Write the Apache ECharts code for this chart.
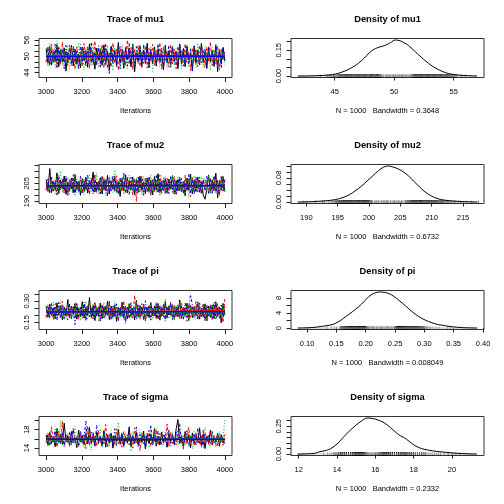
<!DOCTYPE html>
<html><head><meta charset="utf-8">
<script src="https://cdn.jsdelivr.net/npm/echarts@6/dist/echarts.min.js"></script>
<style>html,body{margin:0;padding:0;background:#fff}#c{width:504px;height:504px}</style>
</head><body><div id="c"></div>
<script>
// ---------- DATA ----------
const iterRange = [3000, 4000];
const smoothIter = [3000, 3250, 3500, 3750, 4000];
const chainColors = ['#000000', '#FF0000', '#00CD00', '#0000FF'];

const mu1Chain1 = [52.9,47.4,53.6,46.8,51.7,48.1,54.3,46.2,52.4,47.9,53.1,44.6,51.5,48.8,54.0,46.5,52.7,47.2,50.9,45.8,53.4,48.4,52.1,46.0,54.6,47.7,51.3,45.3,53.0,48.6,52.5,46.7,54.2,47.0,51.9,44.9,53.7,48.2,52.2,46.3,55.1,47.5,51.6,45.6,53.3,48.9,52.8,46.1,54.4,44.3,51.2,47.8,53.9,46.6,52.3,48.0,54.8,45.9,51.8,47.3,53.5,46.4,52.6,48.5,50.7,45.1,54.1,47.6,52.0,46.9,53.2,48.3,51.4,45.5,54.5,47.1,52.9,46.2,53.8,48.7,51.1,44.7,53.6,47.4,52.4,46.8,54.7,48.1,51.7,45.7,53.0,47.9,52.2,46.5,54.0,44.4,52.6,47.2,53.3,48.4];
const mu1Chain2 = [47.8,53.2,46.4,54.5,48.3,52.6,45.9,53.8,47.1,55.2,48.6,52.0,46.7,54.1,47.5,52.8,45.4,53.5,48.0,51.9,46.2,54.7,47.7,52.4,45.6,53.1,48.8,55.6,46.9,52.2,47.3,54.3,45.8,53.0,48.4,51.6,46.1,54.9,47.6,52.7,44.9,53.6,48.2,52.1,46.6,56.0,47.0,53.3,45.2,52.5,48.7,54.0,46.3,51.8,47.4,53.9,45.7,52.9,48.1,54.4,46.8,52.3,47.9,55.0,45.3,53.4,48.5,51.7,46.0,54.2,47.2,52.6,45.5,53.7,48.9,52.0,46.4,54.6,47.8,51.5,44.8,53.1,48.3,52.8,46.2,54.1,47.6,52.4,45.9,53.5,48.0,55.3,46.7,52.2,47.3,53.8,45.1,52.7,48.6,51.9];
const mu1Chain3 = [51.4,46.3,54.8,47.9,52.5,45.7,55.7,48.2,53.0,46.6,52.1,47.4,54.3,45.4,53.6,48.7,51.8,46.0,55.2,47.2,52.9,45.0,53.3,48.5,52.0,46.8,54.6,47.6,51.6,45.8,53.9,48.1,52.7,46.4,54.1,47.0,52.3,44.7,53.5,48.6,51.9,46.2,54.4,47.7,52.6,45.5,53.1,48.3,55.0,46.9,52.2,47.3,53.7,45.6,54.0,48.0,51.7,46.5,53.4,44.5,52.8,47.8,54.7,46.1,52.4,48.4,53.2,45.9,51.5,47.1,54.2,46.7,52.9,48.8,53.8,45.3,52.0,47.5,54.5,46.3,53.0,48.2,51.6,45.7,54.9,47.4,52.5,46.0,53.6,48.6,52.1,44.9,53.3,47.7,54.1,46.4,52.7,48.1,51.8,46.8];
const mu1Chain4 = [48.5,53.4,46.9,52.2,47.6,54.5,46.0,53.1,48.2,52.6,45.5,54.0,47.3,52.9,46.5,53.7,48.0,51.8,45.2,54.3,47.8,52.4,46.3,53.5,48.6,55.1,46.7,52.0,47.1,53.9,45.8,52.7,48.4,54.6,46.1,43.8,53.2,47.5,52.3,46.8,54.1,45.4,53.0,48.1,52.5,46.4,54.8,47.2,51.9,45.6,53.6,48.3,52.1,46.2,54.2,47.0,53.3,45.9,52.8,48.7,51.7,46.6,54.4,47.4,53.1,45.3,52.4,48.0,54.0,46.0,53.8,47.7,52.2,45.7,54.7,48.5,51.6,46.3,53.4,47.1,52.6,44.6,53.9,48.2,52.0,46.9,54.3,47.6,52.8,45.5,53.5,48.8,51.9,46.1,54.5,47.3,52.3,45.8,53.2,48.4];
const mu1Smooth = [[50.1,50.0,50.0,50.1,50.0],[50.0,49.9,50.0,50.0,50.0],[50.0,50.1,50.0,49.9,50.0],[49.9,50.0,50.1,50.0,50.0]];
const mu1RugCentre = [48.6,48.8,48.9,49.05,49.1,49.25,49.3,49.4,49.45,49.55,49.6,49.7,49.8,49.85,49.95,50.0,50.1,50.15,50.25,50.3,50.4,50.45,50.55,50.6,50.7,50.8,50.95,51.05];

const mu2Chain1 = [208.1,198.3,217.5,197.2,206.4,199.5,213.8,196.4,207.7,200.1,211.2,195.6,205.9,198.8,209.4,197.0,212.5,199.9,206.8,194.8,208.9,198.1,210.2,196.7,207.3,200.4,214.6,197.5,206.1,199.2,209.8,195.9,208.4,198.6,211.7,196.1,207.0,200.0,210.9,197.8,206.6,193.9,209.1,198.4,212.2,196.9,207.5,199.6,210.4,195.4,208.2,197.3,211.0,199.0,206.3,196.3,209.6,198.0,207.9,195.1,210.7,199.4,213.2,197.1,206.9,198.9,209.2,196.6,208.6,200.2,211.5,195.8,207.2,198.5,210.0,197.6,206.5,194.5,209.5,199.1,212.8,196.2,207.6,198.2,210.3,197.4,206.2,195.2,191.5,199.7,211.9,196.8,208.0,198.7,213.5,192.6,207.1,199.3,210.8,197.9];
const mu2Chain2 = [199.0,208.7,196.8,210.1,198.4,207.5,195.3,211.6,199.8,206.0,197.0,209.9,194.6,208.1,200.3,212.3,197.7,206.7,199.1,210.5,196.4,208.4,198.6,205.8,195.9,209.3,199.5,213.0,197.3,207.1,196.0,210.8,198.9,206.4,194.2,209.7,200.0,207.8,197.5,211.4,195.7,208.9,198.2,206.2,196.6,210.2,199.4,207.4,195.0,209.1,189.5,208.0,197.9,211.1,196.2,206.9,199.6,210.0,194.9,208.5,198.0,207.0,196.9,212.0,199.2,206.5,195.5,209.5,198.7,207.6,197.1,210.6,195.6,208.2,199.9,206.1,196.5,211.8,198.1,207.3,193.6,209.8,199.3,208.3,197.6,210.4,195.8,207.9,198.5,206.8,196.1,209.4,199.7,211.3,197.2,207.2,194.7,210.9,198.3,208.6];
const mu2Chain3 = [205.2,197.6,209.6,199.7,207.4,196.3,211.0,198.8,215.5,197.0,208.1,200.1,210.3,195.8,207.8,199.2,212.4,196.7,206.6,198.5,209.2,195.2,208.6,200.3,211.7,197.4,206.3,199.0,213.6,196.0,208.0,198.2,210.7,194.6,207.2,199.8,209.9,197.2,216.3,196.5,208.4,199.5,210.1,195.4,207.0,198.6,211.9,196.9,208.8,200.0,209.4,197.8,206.9,195.0,210.5,199.1,208.2,196.4,212.1,198.3,207.6,197.1,209.7,194.1,208.5,199.6,210.9,196.6,207.1,198.9,211.2,195.6,208.7,199.4,210.0,197.5,206.8,196.1,209.3,192.9,208.3,198.1,211.5,196.8,207.5,199.3,210.6,195.9,208.9,197.9,212.7,196.2,207.7,199.9,209.0,195.3,208.1,198.4,210.2,197.3];
const mu2Chain4 = [200.5,207.9,196.6,210.4,198.5,206.6,195.5,209.5,199.3,208.3,197.4,211.3,196.0,207.6,199.8,209.9,195.1,208.7,198.1,210.8,196.8,207.2,199.5,212.6,197.1,208.5,195.8,209.3,198.7,207.0,196.4,210.5,199.0,208.1,194.3,209.6,197.7,211.8,198.3,206.7,196.2,209.1,199.7,214.2,197.0,208.6,195.6,210.0,198.6,207.3,196.9,211.1,199.2,208.8,194.8,209.4,197.9,210.7,196.5,207.8,199.4,212.3,197.5,208.2,195.9,209.8,198.4,207.1,196.3,211.4,199.6,208.4,195.3,210.1,197.8,209.0,196.7,207.4,199.1,213.1,197.2,208.0,195.4,210.3,198.8,207.7,196.0,209.2,199.9,211.6,196.8,208.9,195.7,210.6,198.0,207.5,196.1,209.7,198.2,208.2];
const mu2Smooth = [[203.0,202.9,203.1,203.0,203.2],[202.8,202.9,202.7,202.9,202.8],[203.1,203.0,203.0,202.9,203.0],[202.9,203.0,202.9,203.1,202.9]];
const mu2RugCentre = [200.4,200.6,200.9,201.0,201.2,201.3,201.5,201.6,201.9,202.0,202.2,202.3,202.5,202.6,202.8,202.9,203.0,203.1,203.4,203.5,203.7,203.9,204.0,204.1,204.3,204.4,204.6,204.7,204.9,205.2,205.3,205.6,205.8];

const piChain1 = [0.262,0.188,0.279,0.196,0.251,0.175,0.288,0.201,0.268,0.169,0.257,0.193,0.311,0.182,0.264,0.205,0.283,0.172,0.249,0.190,0.296,0.179,0.259,0.198,0.325,0.185,0.270,0.163,0.254,0.194,0.287,0.176,0.261,0.200,0.300,0.170,0.266,0.186,0.274,0.157,0.256,0.197,0.292,0.181,0.263,0.174,0.281,0.192,0.252,0.168,0.305,0.187,0.269,0.199,0.277,0.161,0.258,0.183,0.290,0.195,0.265,0.178,0.284,0.166,0.253,0.191,0.298,0.180,0.267,0.202,0.275,0.171,0.260,0.189,0.309,0.177,0.255,0.194,0.286,0.164,0.271,0.184,0.262,0.198,0.293,0.173,0.250,0.190,0.280,0.160,0.266,0.186,0.273,0.176,0.296,0.192,0.257,0.147,0.284,0.200];
const piChain2 = [0.184,0.271,0.195,0.258,0.170,0.284,0.189,0.265,0.176,0.299,0.197,0.254,0.167,0.277,0.186,0.262,0.199,0.290,0.173,0.256,0.192,0.281,0.165,0.268,0.188,0.252,0.178,0.295,0.194,0.260,0.159,0.274,0.183,0.266,0.200,0.288,0.171,0.257,0.190,0.279,0.174,0.263,0.196,0.302,0.168,0.255,0.187,0.272,0.181,0.340,0.193,0.259,0.175,0.283,0.162,0.267,0.198,0.276,0.179,0.253,0.191,0.289,0.169,0.264,0.185,0.280,0.172,0.258,0.197,0.293,0.166,0.270,0.189,0.261,0.177,0.285,0.194,0.256,0.158,0.278,0.186,0.268,0.200,0.297,0.174,0.262,0.182,0.287,0.170,0.254,0.195,0.275,0.164,0.266,0.190,0.282,0.178,0.259,0.150,0.315];
const piChain3 = [0.270,0.180,0.263,0.194,0.294,0.173,0.258,0.199,0.306,0.185,0.267,0.168,0.282,0.192,0.254,0.177,0.289,0.196,0.261,0.162,0.276,0.188,0.298,0.171,0.259,0.200,0.284,0.183,0.266,0.155,0.253,0.193,0.292,0.176,0.272,0.187,0.260,0.169,0.301,0.195,0.257,0.181,0.279,0.164,0.268,0.198,0.286,0.174,0.255,0.190,0.296,0.178,0.264,0.186,0.273,0.160,0.262,0.197,0.288,0.172,0.256,0.184,0.280,0.167,0.269,0.193,0.320,0.179,0.258,0.189,0.277,0.170,0.265,0.199,0.291,0.175,0.252,0.182,0.285,0.163,0.271,0.196,0.259,0.173,0.299,0.188,0.266,0.180,0.283,0.158,0.257,0.194,0.274,0.176,0.290,0.185,0.261,0.170,0.278,0.191];
const piChain4 = [0.196,0.266,0.178,0.285,0.191,0.259,0.165,0.291,0.187,0.272,0.170,0.254,0.199,0.280,0.174,0.263,0.134,0.276,0.193,0.257,0.180,0.294,0.168,0.268,0.189,0.253,0.176,0.287,0.195,0.261,0.160,0.275,0.184,0.258,0.198,0.297,0.172,0.264,0.186,0.281,0.163,0.255,0.192,0.270,0.142,0.262,0.181,0.289,0.197,0.256,0.169,0.278,0.188,0.260,0.175,0.303,0.194,0.265,0.166,0.252,0.190,0.283,0.177,0.267,0.200,0.274,0.161,0.259,0.185,0.292,0.171,0.256,0.196,0.279,0.179,0.264,0.167,0.286,0.192,0.258,0.345,0.271,0.183,0.253,0.174,0.288,0.195,0.262,0.159,0.277,0.187,0.266,0.178,0.295,0.168,0.257,0.190,0.273,0.182,0.260];
const piSmooth = [[0.226,0.225,0.226,0.226,0.227],[0.223,0.224,0.226,0.229,0.233],[0.225,0.226,0.225,0.224,0.225],[0.224,0.225,0.224,0.225,0.226]];
const piRugCentre = [0.201,0.203,0.204,0.206,0.208,0.209,0.211,0.212,0.213,0.214,0.216,0.218,0.219,0.221,0.223,0.224,0.226,0.227,0.228,0.229,0.231,0.233,0.234,0.236,0.237,0.238,0.239,0.241,0.243,0.244,0.246,0.248,0.249];

const sigmaChain1 = [16.9,14.6,17.4,15.0,16.5,14.3,18.2,15.2,17.0,14.8,19.4,15.4,16.7,14.5,17.6,15.1,16.3,14.1,17.9,15.3,16.8,14.7,17.2,14.9,18.5,15.0,16.6,14.4,17.5,15.5,16.4,14.6,17.8,14.2,16.9,15.2,17.3,14.0,16.6,15.4,18.0,14.8,17.1,14.5,16.5,15.1,18.6,14.3,16.7,15.0,17.4,14.6,16.2,15.3,17.7,13.8,16.8,14.9,17.0,15.2,18.3,14.4,16.6,14.7,17.5,15.1,16.4,14.2,17.2,15.4,16.9,14.8,18.1,20.2,15.0,16.5,14.5,17.6,15.3,16.8,14.1,17.3,14.9,16.7,15.2,18.4,14.6,17.0,13.9,16.6,15.0,17.9,14.7,16.4,15.3,17.2,14.4,16.9,15.1,16.2];
const sigmaChain2 = [15.1,17.3,14.7,18.6,15.4,16.8,14.2,17.7,15.0,19.8,14.5,16.6,15.2,17.4,14.8,18.0,15.5,16.4,14.3,17.1,15.0,16.9,13.9,18.8,14.6,17.5,15.3,16.7,14.4,17.8,15.1,16.5,14.9,19.1,14.1,17.2,15.4,16.8,14.6,18.2,15.0,16.3,14.2,17.6,15.3,16.9,14.7,17.0,14.0,18.4,15.2,16.6,13.5,17.3,14.9,16.7,15.5,17.9,14.4,16.4,15.1,18.1,14.6,17.2,14.8,16.8,15.3,19.2,14.3,17.5,15.0,16.5,14.7,17.8,15.4,16.9,13.7,17.1,14.9,18.5,15.2,16.6,14.5,17.4,15.0,16.3,14.2,18.0,15.4,16.7,14.8,17.6,15.1,16.9,14.4,17.2,15.3,16.4,14.6,17.0];
const sigmaChain3 = [16.1,14.4,17.7,15.2,16.6,14.9,18.4,15.0,20.0,14.7,16.8,15.3,17.3,14.2,16.5,15.1,18.7,14.6,17.0,15.4,16.3,14.0,17.9,15.2,16.7,13.6,17.5,14.8,16.9,15.0,18.2,14.5,17.2,15.3,16.4,14.3,17.8,15.1,16.7,14.7,19.6,15.2,16.5,14.4,17.4,15.0,16.9,13.3,17.6,14.9,16.2,15.4,18.0,14.6,16.8,15.2,17.3,14.1,16.6,15.0,18.6,14.8,17.1,15.3,16.4,14.5,17.7,15.1,16.9,14.2,17.5,15.4,16.6,14.7,18.3,15.0,16.3,14.4,17.2,15.2,16.8,13.8,17.9,14.9,16.5,15.3,17.0,14.6,18.5,15.1,16.7,14.3,17.4,15.0,16.2,14.8,17.6,15.2,16.0,20.4];
const sigmaChain4 = [15.6,17.0,14.5,16.7,15.3,18.1,14.8,16.4,15.0,17.5,14.3,16.9,15.4,17.2,14.7,18.4,15.1,16.6,14.4,17.8,15.2,16.3,19.8,14.9,16.8,15.5,17.4,14.6,18.9,15.0,16.5,14.2,17.6,15.3,16.7,14.8,17.1,15.1,18.2,14.5,16.9,15.4,17.3,14.1,16.4,15.2,17.9,14.7,16.6,15.0,18.6,14.4,17.0,15.3,16.8,13.9,17.4,15.1,19.0,14.6,16.5,15.2,17.7,14.8,16.3,15.4,17.2,14.3,18.0,15.0,16.9,14.6,17.5,15.2,19.3,14.9,16.7,15.1,17.8,14.5,16.4,15.3,17.1,14.7,18.3,15.0,16.6,14.2,17.3,15.4,16.8,14.9,17.6,15.1,16.2,14.6,17.0,15.3,16.5,15.0];
const sigmaSmooth = [[15.9,15.9,15.8,15.9,15.9],[15.9,15.9,16.0,15.9,15.9],[15.8,15.9,15.9,15.9,16.0],[15.9,15.9,15.9,15.9,15.9]];
const sigmaRugCentre = [15.55,15.6,15.65,15.7,15.75,15.8,15.85,15.9,15.95,16.0,16.05,16.1,16.15];

// density curves
const mu1DensX = [41.9,43.5,44.5,45.1,45.7,46.2,46.7,47.0,47.5,47.9,48.3,48.6,49.0,49.3,49.7,50.1,50.5,50.8,51.2,51.8,52.3,52.6,53.2,53.7,54.3,54.9,55.5,56.0,56.96];
const mu1DensY = [0,0.002,0.006,0.012,0.025,0.040,0.060,0.075,0.105,0.135,0.155,0.165,0.173,0.180,0.195,0.210,0.205,0.195,0.178,0.140,0.108,0.090,0.058,0.038,0.020,0.010,0.005,0.003,0];
const mu2DensX = [188.63,191,193,194.6,196.0,197.0,197.8,198.8,199.7,200.6,201.5,202.3,203.1,203.9,204.7,205.5,206.3,207.1,207.9,208.8,209.8,210.7,211.6,213.0,214.5,217.3];
const mu2DensY = [0,0.0015,0.004,0.008,0.016,0.026,0.037,0.053,0.070,0.087,0.104,0.116,0.120,0.116,0.110,0.100,0.087,0.070,0.054,0.036,0.022,0.013,0.008,0.004,0.002,0];
const piDensX = [0.0841,0.11,0.125,0.1427,0.155,0.1654,0.177,0.1882,0.197,0.2053,0.215,0.225,0.2394,0.248,0.2565,0.268,0.2792,0.290,0.302,0.313,0.3247,0.3474,0.365,0.3901];
const piDensY = [0,0.15,0.45,0.9,1.8,2.98,4.3,5.67,7.0,8.37,9.3,9.6,9.2,8.4,7.4,5.9,4.33,3.1,2.08,1.4,0.9,0.35,0.12,0];
const sigmaDensX = [11.95,12.8,13.04,13.57,14.0,14.43,14.95,15.3,15.56,16.0,16.52,17.04,17.3,17.48,17.8,18.08,18.4,18.78,19.2,19.65,20.35,21.3];
const sigmaDensY = [0,0.006,0.018,0.040,0.090,0.170,0.255,0.300,0.325,0.315,0.275,0.200,0.165,0.150,0.110,0.075,0.050,0.035,0.024,0.016,0.006,0];

// tick values and labels
const traceXTicks = [3000,3200,3400,3600,3800,4000];
const mu1TraceYTicks = [44,46,48,50,52,54,56], mu1TraceYLabels = [44,50,56];
const mu2TraceYTicks = [190,195,200,205,210,215,220], mu2TraceYLabels = [190,205];
const piTraceYTicks = [0.15,0.20,0.25,0.30,0.35], piTraceYLabels = [0.15,0.30];
const sigmaTraceYTicks = [14,16,18,20], sigmaTraceYLabels = [14,18];
const mu1DensXTicks = [45,50,55], mu1DensYTicks = [0,0.05,0.10,0.15,0.20], mu1DensYLabels = [0,0.15];
const mu2DensXTicks = [190,195,200,205,210,215], mu2DensYTicks = [0,0.02,0.04,0.06,0.08,0.10,0.12], mu2DensYLabels = [0,0.08];
const piDensXTicks = [0.10,0.15,0.20,0.25,0.30,0.35,0.40], piDensYTicks = [0,2,4,6,8], piDensYLabels = [0,4,8];
const sigmaDensXTicks = [12,14,16,18,20], sigmaDensYTicks = [0,0.05,0.10,0.15,0.20,0.25,0.30], sigmaDensYLabels = [0,0.25];

const paramNames = ['mu1','mu2','pi','sigma'];
const sampleN = 1000;
const bandwidths = ['0.3648','0.6732','0.008049','0.2332'];

// ---------- CHART ----------
const FONT = '"Liberation Sans", Arial, Helvetica, sans-serif';
const chains = [[mu1Chain1,mu1Chain2,mu1Chain3,mu1Chain4],[mu2Chain1,mu2Chain2,mu2Chain3,mu2Chain4],[piChain1,piChain2,piChain3,piChain4],[sigmaChain1,sigmaChain2,sigmaChain3,sigmaChain4]];
const smooths = [mu1Smooth, mu2Smooth, piSmooth, sigmaSmooth];
const rugCentres = [mu1RugCentre, mu2RugCentre, piRugCentre, sigmaRugCentre];
const dens = [[mu1DensX,mu1DensY],[mu2DensX,mu2DensY],[piDensX,piDensY],[sigmaDensX,sigmaDensY]];
const traceY = [[mu1TraceYTicks,mu1TraceYLabels,0],[mu2TraceYTicks,mu2TraceYLabels,0],[piTraceYTicks,piTraceYLabels,2],[sigmaTraceYTicks,sigmaTraceYLabels,0]];
const densXT = [[mu1DensXTicks,0],[mu2DensXTicks,0],[piDensXTicks,2],[sigmaDensXTicks,0]];
const densYT = [[mu1DensYTicks,mu1DensYLabels,2],[mu2DensYTicks,mu2DensYLabels,2],[piDensYTicks,piDensYLabels,0],[sigmaDensYTicks,sigmaDensYLabels,2]];
const traceYRange = [[42.24,56.55],[187.9,220.9],[0.100,0.375],[12.4,20.85]];
const densXRange = [[41.33,57.55],[187.56,218.35],[0.0727,0.4017],[11.6,21.67]];
const densYRange = [[-0.0084,0.2184],[-0.0048,0.1248],[-0.384,9.984],[-0.013,0.338]];
const dashes = ['solid',[3,2],[1,2],[1,2,3,2]];

const grids = [], xAxes = [], yAxes = [], series = [], graphics = [];
function mkAxis(gi, min, max, ticks, labels, dec, isY, name) {
  const ax = {
    type:'value', gridIndex:gi, min:min, max:max,
    axisLine:{show:false},
    axisTick:{show:true, inside:false, length:4.5, customValues:ticks, lineStyle:{color:'#222', width:1}},
    axisLabel:{show:true, customValues:labels, formatter:v=>Number(v).toFixed(dec), fontSize:7.5, color:'#000', fontFamily:FONT, margin:isY?8:10, rotate:isY?90:0, hideOverlap:false},
    splitLine:{show:false}
  };
  if (name) {
    ax.name = name; ax.nameLocation = 'middle'; ax.nameGap = 29;
    ax.nameTextStyle = {fontSize:7.5, color:'#000', fontFamily:FONT};
  }
  return ax;
}
for (let r = 0; r < 4; r++) {
  for (let c = 0; c < 2; c++) {
    const gi = grids.length;
    const left = 39 + 252*c, top = 38.5 + 126*r;
    grids.push({left:left, top:top, width:193, height:39, show:true, borderColor:'#333', borderWidth:1, backgroundColor:'transparent'});
    graphics.push({type:'text', x:left+96.5, y:top-19.2, style:{text:(c===0?'Trace of ':'Density of ')+paramNames[r], textAlign:'center', textVerticalAlign:'middle', font:'bold 9.3px '+FONT, fill:'#000'}});
    if (c === 0) {
      xAxes.push(mkAxis(gi, 2960, 4040, traceXTicks, traceXTicks, 0, false, 'Iterations'));
      yAxes.push(mkAxis(gi, traceYRange[r][0], traceYRange[r][1], traceY[r][0], traceY[r][1], traceY[r][2], true));
      chains[r].forEach((ch, k) => {
        series.push({type:'line', xAxisIndex:gi, yAxisIndex:gi, showSymbol:false, silent:true,
          data: ch.map((v,i)=>[iterRange[0] + i*(iterRange[1]-iterRange[0])/(ch.length-1), v]),
          lineStyle:{color:chainColors[k], width:1, type:dashes[k]}});
      });
      smooths[r].forEach((sm, k) => {
        series.push({type:'line', xAxisIndex:gi, yAxisIndex:gi, showSymbol:false, silent:true, smooth:true,
          data: sm.map((v,i)=>[smoothIter[i], v]), lineStyle:{color:chainColors[k], width:1.5}});
      });
    } else {
      xAxes.push(mkAxis(gi, densXRange[r][0], densXRange[r][1], densXT[r][0], densXT[r][0], densXT[r][1], false, 'N = ' + sampleN + '   Bandwidth = ' + bandwidths[r]));
      yAxes.push(mkAxis(gi, densYRange[r][0], densYRange[r][1], densYT[r][0], densYT[r][1], densYT[r][2], true));
      const dx = dens[r][0], dy = dens[r][1];
      series.push({type:'line', xAxisIndex:gi, yAxisIndex:gi, showSymbol:false, silent:true,
        data:[[dx[0],0],[dx[dx.length-1],0]], lineStyle:{color:'#bebebe', width:1}});
      const rug = [];
      chains[r].forEach(ch => ch.forEach(v => rug.push([v, 0])));
      rugCentres[r].forEach(v => rug.push([v, 0]));
      series.push({type:'scatter', xAxisIndex:gi, yAxisIndex:gi, silent:true, symbol:'rect', symbolSize:[0.8,3],
        data:rug, itemStyle:{color:'rgba(0,0,0,0.75)'}});
      series.push({type:'line', xAxisIndex:gi, yAxisIndex:gi, showSymbol:false, silent:true, smooth:0.3,
        data: dx.map((x,i)=>[x, dy[i]]), lineStyle:{color:'#000', width:1}});
    }
  }
}
const chart = echarts.init(document.getElementById('c'), null, {renderer:'canvas'});
chart.setOption({animation:false, backgroundColor:'#fff', grid:grids, xAxis:xAxes, yAxis:yAxes, series:series, graphic:graphics});
</script></body></html>
